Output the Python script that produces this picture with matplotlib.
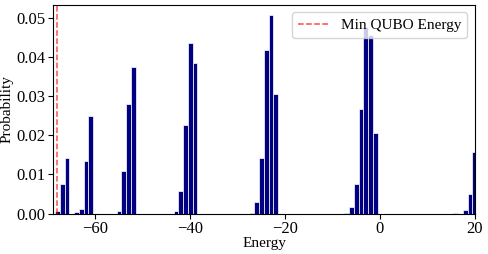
import matplotlib.pyplot as plt

plt.rcParams["font.family"] = ["Liberation Serif", "DejaVu Serif"]
plt.rcParams["font.size"] = 11

# energy levels (bin centres) and their measured probabilities
energies = [-68, -67, -66, -64, -63, -62, -61, -55, -54, -53, -52,
            -43, -42, -41, -40, -39, -27, -26, -25, -24, -23, -22,
            -7, -6, -5, -4, -3, -2, -1, 16, 18, 19, 20]
probs = [0.0006, 0.0075, 0.0142, 0.0003, 0.0012, 0.0135, 0.0248,
         0.0006, 0.0108, 0.0280, 0.0374,
         0.0007, 0.0057, 0.0227, 0.0435, 0.0385,
         0.0002, 0.0030, 0.0141, 0.0418, 0.0508, 0.0306,
         0.0002, 0.0017, 0.0075, 0.0268, 0.0477, 0.0457, 0.0206,
         0.0002, 0.0008, 0.0049, 0.0157]
min_qubo_energy = -68

fig, ax = plt.subplots(figsize=(4.88, 2.54), dpi=100)
fig.subplots_adjust(left=0.109, right=0.973, top=0.982, bottom=0.159)

ax.bar(energies, probs, width=1.0, color="navy", edgecolor="white", linewidth=0.5)
ax.axvline(min_qubo_energy, color="red", linestyle="--", linewidth=1.1, alpha=0.7,
           label="Min QUBO Energy")

ax.set_xlim(-68.9, 20)
ax.set_xticks([-60, -40, -20, 0, 20])
ax.tick_params(labelsize=12, pad=2)
ax.set_xlabel("Energy", labelpad=0)
ax.set_ylabel("Probability", labelpad=1)
ax.yaxis.set_label_coords(-0.095, 0.5)
ax.legend(loc="upper right", fontsize=11)

fig.savefig("out.png")
